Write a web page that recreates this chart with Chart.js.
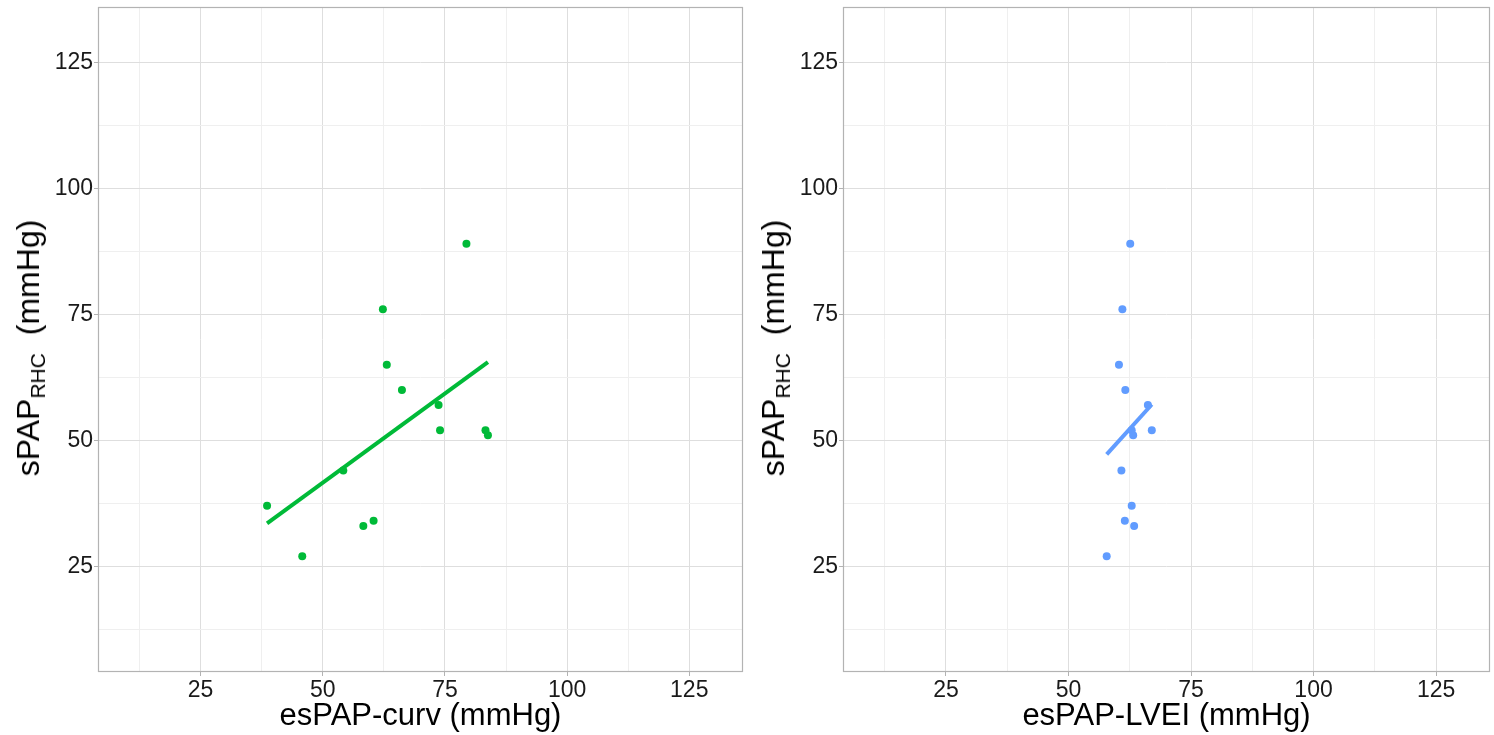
<!DOCTYPE html>
<html><head><meta charset="utf-8">
<script src="https://cdn.jsdelivr.net/npm/chart.js@4.4.0/dist/chart.umd.min.js"></script>
<style>
html,body{margin:0;padding:0;background:#fff;}
#wrap{position:relative;width:1494px;height:735px;overflow:hidden;font-family:'Liberation Sans',Arial,sans-serif;}
.panel{position:absolute;top:0;height:735px;}
.ytitle{position:absolute;white-space:nowrap;font-size:32px;line-height:32px;color:#000;transform:translate(-50%,-50%) rotate(-90deg);}
.ytitle sub{font-size:21px;vertical-align:baseline;position:relative;top:6px;line-height:0;margin-right:9px;}
</style></head>
<body>
<div id="wrap">
<div class="panel" style="left:0;width:747px"><canvas id="c1"></canvas></div>
<div class="panel" style="left:747px;width:747px"><canvas id="c2"></canvas></div>
<div class="ytitle" style="left:28px;top:348px">sPAP<sub>RHC</sub> (mmHg)</div>
<div class="ytitle" style="left:773px;top:348px">sPAP<sub>RHC</sub> (mmHg)</div>
</div>
<script>
const axisMin = 4, axisMax = 136;
const gridValues = [12.5, 25, 37.5, 50, 62.5, 75, 87.5, 100, 112.5, 125];
const labelValues = [25, 50, 75, 100, 125];

const curvX = [38.6, 45.8, 54.2, 58.3, 60.4, 62.3, 63.1, 66.2, 73.7, 74.0, 79.4, 83.3, 83.8];
const curvY = [37, 27, 44, 33, 34, 76, 65, 60, 57, 52, 89, 52, 51];
const curvFitX = [38.6, 83.8];
const curvFitY = [33.5, 65.5];

const lveiX = [62.6, 61.0, 60.3, 61.6, 66.2, 67.0, 62.9, 63.2, 60.8, 62.9, 61.5, 63.4, 57.8];
const lveiY = [89, 76, 65, 60, 57, 52, 52, 51, 44, 37, 34, 33, 27];
const lveiFitX = [57.8, 67.0];
const lveiFitY = [47.2, 57.1];

const frame = {
  id: 'frame',
  afterDraw(chart) {
    const a = chart.chartArea, ctx = chart.ctx;
    ctx.save();
    ctx.strokeStyle = '#b3b3b3';
    ctx.lineWidth = 1.2;
    ctx.strokeRect(a.left + 0.5, a.top + 0.5, a.right - a.left - 1, a.bottom - a.top - 1);
    ctx.restore();
  }
};

function axisCommon() {
  return {
    type: 'linear', min: axisMin, max: axisMax,
    afterBuildTicks: s => { s.ticks = gridValues.map(v => ({ value: v })); },
    border: { display: false },
    grid: {
      color: c => (c.tick && labelValues.includes(c.tick.value)) ? '#dedede' : '#efefef',
      tickColor: c => (c.tick && labelValues.includes(c.tick.value)) ? '#b3b3b3' : 'rgba(0,0,0,0)',
      tickLength: 4, lineWidth: 1
    },
    ticks: {
      autoSkip: false, maxRotation: 0, padding: 1,
      color: '#1a1a1a', font: { size: 23, family: "'Liberation Sans', Arial, sans-serif" },
      callback: v => labelValues.includes(v) ? String(v) : ''
    }
  };
}

function makeChart(id, xs, ys, fitX, fitY, color, xTitle, yWidth, padRight) {
  const pts = xs.map((x, i) => ({ x: x, y: ys[i] }));
  const fit = fitX.map((x, i) => ({ x: x, y: fitY[i] }));
  const xAxis = axisCommon();
  xAxis.afterFit = s => { s.height = 63; s.paddingLeft = 0; s.paddingRight = 0; };
  xAxis.title = { display: true, text: xTitle, color: '#000', font: { size: 31, family: "'Liberation Sans', Arial, sans-serif" }, padding: { top: 0, bottom: 0 } };
  const yAxis = axisCommon();
  yAxis.afterFit = s => { s.width = yWidth; s.paddingTop = 0; s.paddingBottom = 0; };
  return new Chart(document.getElementById(id), {
    type: 'scatter',
    data: { datasets: [
      { type: 'line', data: fit, borderColor: color, borderWidth: 4, pointRadius: 0, fill: false, tension: 0 },
      { data: pts, backgroundColor: color, borderWidth: 0, pointRadius: 4, pointHoverRadius: 4 }
    ] },
    options: {
      responsive: true, maintainAspectRatio: false, animation: false, devicePixelRatio: 1,
      events: [],
      layout: { padding: { top: 7, right: padRight, left: 0, bottom: 0 } },
      plugins: { legend: { display: false }, tooltip: { enabled: false } },
      scales: { x: xAxis, y: yAxis }
    },
    plugins: [frame]
  });
}

makeChart('c1', curvX, curvY, curvFitX, curvFitY, '#00BA38', 'esPAP-curv (mmHg)', 98, 0);
makeChart('c2', lveiX, lveiY, lveiFitX, lveiFitY, '#619CFF', 'esPAP-LVEI (mmHg)', 96, 2);
</script>
</body></html>
